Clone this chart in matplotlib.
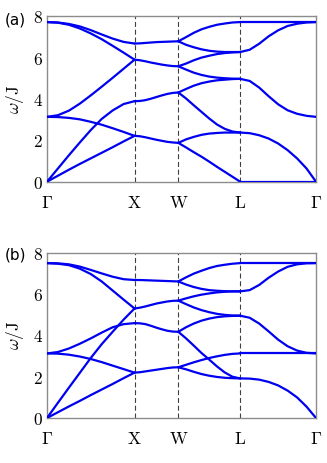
import numpy as np
import matplotlib
matplotlib.use('Agg')
matplotlib.rcParams['mathtext.fontset'] = 'cm'
import matplotlib.pyplot as plt

# high-symmetry path Gamma-X-W-L-Gamma (segment lengths, units of 2pi/a)
SEG_LEN = [1.0, 0.5, 0.7071, 0.8660]
KLABELS = [r'$\Gamma$', r'$\mathrm{X}$', r'$\mathrm{W}$', r'$\mathrm{L}$', r'$\Gamma$']
# sample positions along each segment (fraction of segment)
FRAC = [0, 0.125, 0.25, 0.375, 0.5, 0.625, 0.75, 0.875, 1.0]

# ---- panel (a), omega/J ----
a_GX = [
    [0, 0.29, 0.58, 0.86, 1.13, 1.40, 1.67, 1.95, 2.22],
    [0, 0.64, 1.28, 1.90, 2.50, 3.04, 3.45, 3.76, 3.90],
    [3.14, 3.13, 3.09, 3.02, 2.90, 2.76, 2.59, 2.41, 2.22],
    [3.14, 3.22, 3.44, 3.78, 4.18, 4.60, 5.03, 5.47, 5.91],
    [7.73, 7.70, 7.60, 7.42, 7.18, 6.90, 6.58, 6.25, 5.91],
    [7.73, 7.71, 7.64, 7.52, 7.34, 7.13, 6.93, 6.77, 6.69],
]
a_XW = [
    [6.69, 6.70, 6.72, 6.74, 6.76, 6.77, 6.78, 6.79, 6.80],
    [5.91, 5.88, 5.83, 5.77, 5.72, 5.67, 5.63, 5.60, 5.59],
    [3.90, 3.91, 3.95, 4.02, 4.10, 4.18, 4.25, 4.30, 4.32],
    [2.22, 2.20, 2.15, 2.09, 2.03, 1.98, 1.93, 1.90, 1.88],
]
a_WL = [
    [6.80, 7.00, 7.21, 7.38, 7.50, 7.60, 7.66, 7.71, 7.73],
    [6.80, 6.63, 6.51, 6.41, 6.34, 6.30, 6.28, 6.28, 6.28],
    [5.59, 5.72, 5.88, 6.01, 6.10, 6.18, 6.23, 6.26, 6.28],
    [5.59, 5.43, 5.28, 5.17, 5.09, 5.04, 5.01, 4.99, 4.98],
    [4.32, 4.49, 4.65, 4.77, 4.85, 4.91, 4.94, 4.97, 4.98],
    [4.32, 4.03, 3.70, 3.38, 3.06, 2.77, 2.56, 2.43, 2.38],
    [1.88, 2.05, 2.17, 2.27, 2.33, 2.36, 2.38, 2.38, 2.38],
    [1.88, 1.66, 1.43, 1.21, 0.97, 0.72, 0.48, 0.24, 0],
]
a_LG = [
    [7.73, 7.73, 7.73, 7.73, 7.73, 7.73, 7.73, 7.73, 7.73],
    [6.28, 6.39, 6.68, 7.04, 7.33, 7.54, 7.65, 7.71, 7.73],
    [4.98, 4.88, 4.56, 4.14, 3.75, 3.46, 3.29, 3.19, 3.14],
    [2.38, 2.35, 2.25, 2.09, 1.85, 1.53, 1.13, 0.64, 0],
    [0, 0, 0, 0, 0, 0, 0, 0, 0],
]

# ---- panel (b) ----
b_GX = [
    [0, 0.28, 0.56, 0.83, 1.11, 1.38, 1.65, 1.93, 2.20],
    [0, 0.74, 1.47, 2.19, 2.91, 3.58, 4.18, 4.77, 5.31],
    [3.13, 3.12, 3.07, 2.98, 2.86, 2.71, 2.54, 2.37, 2.20],
    [3.13, 3.20, 3.37, 3.60, 3.86, 4.14, 4.40, 4.55, 4.60],
    [7.51, 7.48, 7.41, 7.24, 6.98, 6.62, 6.18, 5.74, 5.31],
    [7.51, 7.50, 7.45, 7.34, 7.18, 7.01, 6.85, 6.73, 6.69],
]
b_XW = [
    [6.69, 6.69, 6.68, 6.67, 6.66, 6.65, 6.64, 6.63, 6.62],
    [5.31, 5.35, 5.41, 5.48, 5.55, 5.60, 5.65, 5.68, 5.69],
    [4.60, 4.59, 4.55, 4.47, 4.38, 4.30, 4.23, 4.19, 4.18],
    [2.20, 2.22, 2.26, 2.30, 2.34, 2.38, 2.42, 2.45, 2.46],
]
b_WL = [
    [6.62, 6.82, 7.00, 7.14, 7.27, 7.37, 7.43, 7.48, 7.51],
    [6.62, 6.47, 6.35, 6.26, 6.20, 6.17, 6.15, 6.14, 6.14],
    [5.69, 5.80, 5.90, 5.98, 6.04, 6.09, 6.12, 6.14, 6.14],
    [5.69, 5.52, 5.36, 5.23, 5.13, 5.05, 5.00, 4.97, 4.96],
    [4.18, 4.40, 4.58, 4.72, 4.82, 4.89, 4.93, 4.95, 4.96],
    [4.18, 3.86, 3.51, 3.15, 2.83, 2.50, 2.21, 2.00, 1.92],
    [2.46, 2.58, 2.70, 2.81, 2.91, 2.99, 3.06, 3.11, 3.13],
    [2.46, 2.36, 2.24, 2.13, 2.05, 1.99, 1.95, 1.93, 1.92],
]
b_LG = [
    [7.51, 7.51, 7.51, 7.51, 7.51, 7.51, 7.51, 7.51, 7.51],
    [6.14, 6.20, 6.45, 6.80, 7.10, 7.33, 7.45, 7.50, 7.51],
    [4.96, 4.86, 4.58, 4.20, 3.80, 3.48, 3.27, 3.16, 3.13],
    [3.13, 3.13, 3.13, 3.13, 3.13, 3.13, 3.13, 3.13, 3.13],
    [1.92, 1.91, 1.86, 1.75, 1.58, 1.33, 1.00, 0.55, 0],
]

YTICKS = [0, 2, 4, 6, 8]


def plot_panel(ax, segments):
    kpts = np.concatenate([[0], np.cumsum(SEG_LEN)])
    frac = np.array(FRAC)
    for i, bands in enumerate(segments):
        k = kpts[i] + frac * SEG_LEN[i]
        for w in bands:
            ax.plot(k, w, '-', color='#0000f0', linewidth=1.6,
                    solid_capstyle='round', zorder=3)
    for kk in kpts[1:-1]:
        ax.axvline(kk, color='#404040', linewidth=0.8,
                   linestyle=(0, (4.5, 2.5)), zorder=1)
    ax.set_xlim(kpts[0], kpts[-1])
    ax.set_ylim(0, 8)
    ax.set_xticks(kpts)
    ax.set_xticklabels(KLABELS)
    ax.set_yticks(YTICKS)
    ax.set_yticklabels([r'$%d$' % t for t in YTICKS])
    ax.tick_params(axis='both', length=0, labelsize=12.5)
    ax.tick_params(axis='x', pad=9)
    ax.tick_params(axis='y', pad=3)
    for sp in ax.spines.values():
        sp.set_color('#8c8c8c')
        sp.set_linewidth(1.0)
    ax.set_ylabel(r'$\omega/\mathrm{J}$', fontsize=12.5, va='center')
    ax.yaxis.set_label_coords(-32 / 269, 0.5)


if __name__ == "__main__":
    fig = plt.figure(figsize=(3.27, 4.63), dpi=100)
    ax_a = fig.add_axes([47 / 327, 1 - 181.7 / 463, 269 / 327, 165.2 / 463])
    ax_b = fig.add_axes([47 / 327, 1 - 418 / 463, 269 / 327, 165 / 463])

    plot_panel(ax_a, [a_GX, a_XW, a_WL, a_LG])
    plot_panel(ax_b, [b_GX, b_XW, b_WL, b_LG])

    fig.text(15 / 327, 1 - 20 / 463, '(a)', fontsize=11, ha='center', va='center')
    fig.text(15 / 327, 1 - 255 / 463, '(b)', fontsize=11, ha='center', va='center')

    fig.savefig('out.png', dpi=100)
